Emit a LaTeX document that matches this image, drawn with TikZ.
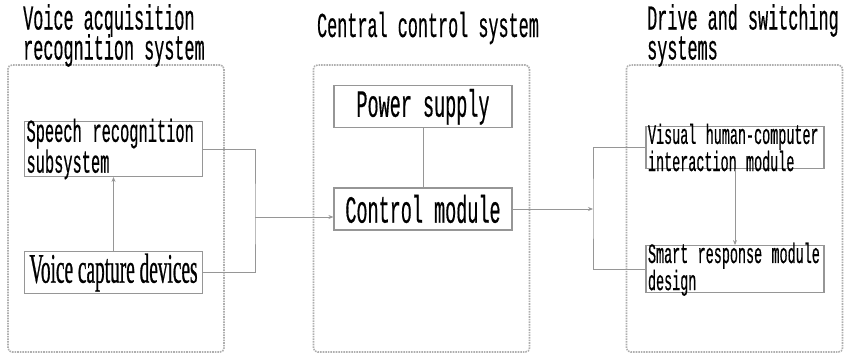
\documentclass[tikz,border=0pt]{standalone}
\usepackage{fontspec}
\newfontfamily\monofam[FakeStretch=0.48, FakeBold=0.4]{Liberation Mono}
\newfontfamily\narrowserif[FakeStretch=0.46, FakeBold=0.6]{Liberation Serif}
\usetikzlibrary{arrows.meta, positioning}
\definecolor{linegray}{RGB}{150,150,150}
\definecolor{dotgray}{RGB}{175,175,175}
\setlength{\lineskiplimit}{-100pt}

\begin{document}
\begin{tikzpicture}[
    x=1pt, y=-1pt,
    node distance=60pt,
    group/.style={draw=dotgray, densely dotted, line width=1.6pt, rounded corners=4pt, minimum width=216pt, minimum height=287pt},
    module/.style={draw=linegray, line width=1.2pt, minimum width=178pt, minimum height=42pt, inner sep=2pt, fill=white},
    note/.style={module, text width=174pt, align=left, inner xsep=2pt, inner ysep=-3pt},
    title/.style={font=\monofam\fontsize{35}{30}\selectfont, align=left, inner sep=0pt},
    link/.style={draw=linegray, line width=0.9pt},
    flow/.style={link, -{Stealth[length=5pt, width=4pt]}},
]
\useasboundingbox (0,0) rectangle (851,356);

% Groups
\node[group] (acqgrp) at (116,208.5) {};
\node[group] (ctrlgrp) at (421.5,208.5) {};
\node[group] (drivegrp) at (734.5,208.5) {};

% Titles
\node[title, anchor=north west] (acqtitle) at (23,4) {Voice acquisition\\recognition system};
\node[title, anchor=base] (ctrltitle) at (428,37) {Central control system};
\node[title, anchor=north west] (drivetitle) at (647,4) {Drive and switching\\systems};

% Modules
\node[note, font=\monofam\fontsize{32}{16}\selectfont] (speech) at (113.5,149) {Speech recognition\\subsystem};
\node[module, below=74pt of speech, font=\narrowserif\fontsize{42}{42}\selectfont] (capture) {Voice capture devices};
\node[module, font=\monofam\fontsize{38.5}{33}\selectfont] (ctrl) at (423,209) {Control module};
\node[module, above=59pt of ctrl, font=\monofam\fontsize{38.5}{33}\selectfont] (power) {Power supply};
\node[note, font=\monofam\fontsize{28}{18}\selectfont] (visual) at (735,147.5) {Visual human-computer\\interaction module};
\node[note, below=76pt of visual, font=\monofam\fontsize{28}{18}\selectfont] (smart) {Smart response module\\design};

% Connectors
\coordinate (jl) at (255,217);
\coordinate (jr) at (593,209);
\draw[flow] (capture) -- (speech);
\draw[link] (speech.east) -| (jl) |- (capture.east);
\draw[flow] (jl) -- (jl -| ctrl.west);
\draw[link] (power) -- (ctrl);
\draw[flow] (ctrl.east) -- (ctrl.east -| jr);
\draw[link] (visual.west) -| (jr) |- (smart.west);
\draw[flow] (visual) -- (smart);

\end{tikzpicture}
\end{document}
